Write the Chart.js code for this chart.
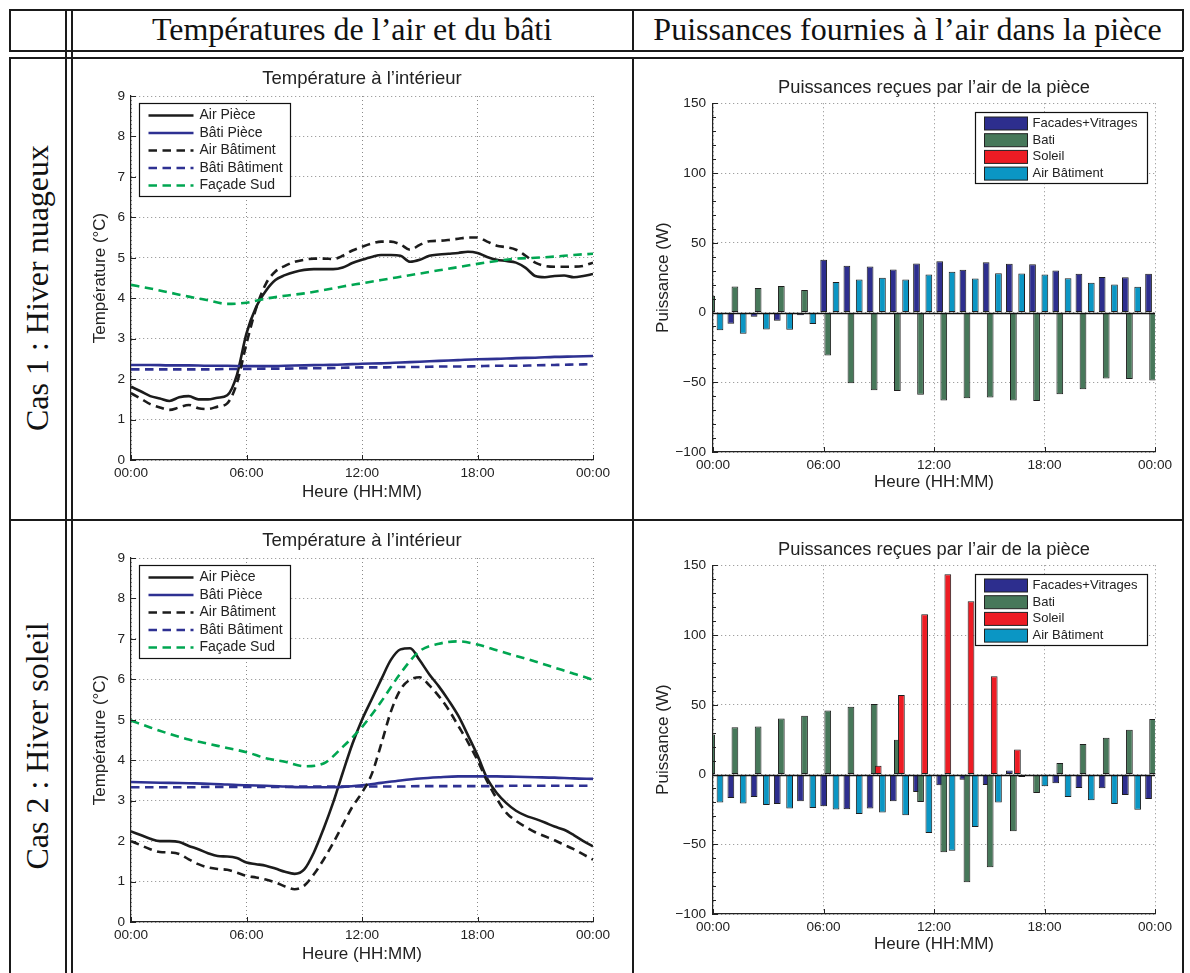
<!DOCTYPE html>
<html>
<head>
<meta charset="utf-8">
<script src="https://cdn.jsdelivr.net/npm/chart.js@4.4.1/dist/chart.umd.min.js"></script>
<style>
  html, body { margin: 0; padding: 0; background: #fff; overflow: hidden; }
  #page { position: relative; width: 1190px; height: 973px; }
  .ln { position: absolute; background: #1a1a1a; }
  .head { position: absolute; top: 9px; height: 41px; line-height: 41px; text-align: center;
          font-family: "Liberation Serif", serif; font-size: 32px; color: #111; white-space: nowrap; }
  .side { position: absolute; left: -163px; width: 400px; height: 40px; line-height: 40px; text-align: center;
          font-family: "Liberation Serif", serif; font-size: 32px; color: #111; white-space: nowrap;
          transform: rotate(-90deg); }
  canvas { position: absolute; }
</style>
</head>
<body>
<div id="page">
  <!-- table rules -->
  <div class="ln" style="left:9px;top:9px;width:1174px;height:1.5px"></div>
  <div class="ln" style="left:9px;top:50px;width:1174px;height:1.5px"></div>
  <div class="ln" style="left:9px;top:57px;width:1174px;height:1.5px"></div>
  <div class="ln" style="left:9px;top:519px;width:1174px;height:1.5px"></div>
  <div class="ln" style="left:9px;top:9px;width:1.5px;height:42px"></div>
  <div class="ln" style="left:9px;top:57px;width:1.5px;height:920px"></div>
  <div class="ln" style="left:65px;top:9px;width:1.5px;height:968px"></div>
  <div class="ln" style="left:71px;top:9px;width:1.5px;height:968px"></div>
  <div class="ln" style="left:632px;top:9px;width:1.5px;height:42px"></div>
  <div class="ln" style="left:632px;top:57px;width:1.5px;height:920px"></div>
  <div class="ln" style="left:1182px;top:9px;width:1.5px;height:42px"></div>
  <div class="ln" style="left:1182px;top:57px;width:1.5px;height:920px"></div>

  <div class="head" style="left:72px;width:560px">Températures de l’air et du bâti</div>
  <div class="head" style="left:633px;width:549px">Puissances fournies à l’air dans la pièce</div>
  <div class="side" style="top:268px">Cas 1 : Hiver nuageux</div>
  <div class="side" style="top:726px">Cas 2 : Hiver soleil</div>

  <canvas id="temp1" width="550" height="458" style="left:76px;top:58px"></canvas>
  <canvas id="bars1" width="540" height="458" style="left:640px;top:58px"></canvas>
  <canvas id="temp2" width="550" height="458" style="left:76px;top:520px"></canvas>
  <canvas id="bars2" width="540" height="458" style="left:640px;top:520px"></canvas>
</div>

<script>
// ---- data ----
const timeTickLabels = ['00:00', '06:00', '12:00', '18:00', '00:00'];

const halfHours = [0, 0.5, 1, 1.5, 2, 2.5, 3, 3.5, 4, 4.5, 5, 5.5, 6, 6.5, 7, 7.5, 8, 8.5, 9, 9.5, 10, 10.5, 11, 11.5,
  12, 12.5, 13, 13.5, 14, 14.5, 15, 15.5, 16, 16.5, 17, 17.5, 18, 18.5, 19, 19.5, 20, 20.5, 21, 21.5, 22, 22.5, 23, 23.5, 24];
const hours = [0, 1, 2, 3, 4, 5, 6, 7, 8, 9, 10, 11, 12, 13, 14, 15, 16, 17, 18, 19, 20, 21, 22, 23, 24];

// Cas 1 : Hiver nuageux - temperatures (°C)
const c1AirPiece = [1.81, 1.70, 1.58, 1.52, 1.46, 1.55, 1.58, 1.50, 1.50, 1.54, 1.60, 2.10, 3.13, 3.78, 4.18, 4.45, 4.57,
  4.65, 4.70, 4.72, 4.72, 4.72, 4.76, 4.87, 4.95, 5.02, 5.07, 5.07, 5.05, 4.90, 4.95, 5.05, 5.08, 5.10, 5.12, 5.15,
  5.12, 5.02, 4.95, 4.92, 4.88, 4.75, 4.55, 4.52, 4.55, 4.56, 4.52, 4.55, 4.60];
const c1AirBatiment = [1.65, 1.52, 1.38, 1.30, 1.24, 1.30, 1.36, 1.28, 1.26, 1.32, 1.40, 1.90, 2.88, 3.75, 4.35, 4.66,
  4.80, 4.90, 4.95, 4.98, 4.98, 4.97, 5.05, 5.18, 5.27, 5.35, 5.40, 5.40, 5.33, 5.20, 5.32, 5.41, 5.42, 5.44, 5.47,
  5.50, 5.50, 5.40, 5.30, 5.26, 5.20, 5.05, 4.88, 4.80, 4.78, 4.78, 4.78, 4.80, 4.88];
const c1BatiPiece = [2.35, 2.35, 2.34, 2.34, 2.33, 2.33, 2.32, 2.32, 2.33, 2.34, 2.35, 2.36, 2.38, 2.39, 2.41, 2.43,
  2.45, 2.47, 2.49, 2.50, 2.52, 2.53, 2.55, 2.56, 2.57];
const c1BatiBatiment = [2.24, 2.24, 2.24, 2.24, 2.24, 2.25, 2.25, 2.26, 2.26, 2.27, 2.27, 2.28, 2.29, 2.29, 2.30, 2.30,
  2.31, 2.31, 2.32, 2.33, 2.33, 2.34, 2.35, 2.36, 2.37];
const c1FacadeSud = [4.33, 4.24, 4.14, 4.04, 3.95, 3.86, 3.89, 3.99, 4.06, 4.12, 4.20, 4.29, 4.37, 4.45, 4.53, 4.61,
  4.69, 4.77, 4.85, 4.92, 4.98, 5.00, 5.03, 5.07, 5.10];

// Cas 2 : Hiver soleil - temperatures (°C)
const c2AirPiece = [2.24, 2.15, 2.06, 2.00, 2.00, 1.98, 1.88, 1.80, 1.70, 1.63, 1.62, 1.58, 1.47, 1.43, 1.39, 1.32, 1.24,
  1.19, 1.30, 1.72, 2.30, 2.95, 3.69, 4.40, 5.00, 5.50, 6.00, 6.48, 6.74, 6.77, 6.47, 6.12, 5.82, 5.48, 5.10, 4.62,
  4.12, 3.55, 3.19, 2.94, 2.75, 2.63, 2.55, 2.46, 2.36, 2.28, 2.15, 2.00, 1.87];
const c2AirBatiment = [2.00, 1.90, 1.80, 1.73, 1.72, 1.68, 1.55, 1.43, 1.35, 1.31, 1.29, 1.22, 1.14, 1.10, 1.05, 0.98,
  0.88, 0.81, 0.90, 1.18, 1.54, 1.95, 2.40, 2.85, 3.20, 3.65, 4.40, 5.20, 5.75, 5.99, 6.05, 5.85, 5.58, 5.25, 4.85,
  4.45, 4.00, 3.48, 3.05, 2.70, 2.50, 2.35, 2.22, 2.12, 2.02, 1.91, 1.80, 1.67, 1.54];
const c2BatiPiece = [3.46, 3.45, 3.44, 3.43, 3.42, 3.40, 3.38, 3.37, 3.35, 3.33, 3.33, 3.34, 3.38, 3.44, 3.50, 3.55,
  3.58, 3.60, 3.60, 3.60, 3.59, 3.58, 3.57, 3.55, 3.54];
const c2BatiBatiment = [3.33, 3.33, 3.33, 3.33, 3.34, 3.34, 3.34, 3.34, 3.34, 3.35, 3.35, 3.35, 3.35, 3.35, 3.35, 3.36,
  3.36, 3.36, 3.36, 3.36, 3.37, 3.37, 3.37, 3.37, 3.37];
const c2FacadeSud = [4.98, 4.81, 4.65, 4.51, 4.41, 4.30, 4.20, 4.05, 3.96, 3.85, 3.92, 4.33, 4.82, 5.45, 6.15, 6.70,
  6.88, 6.94, 6.86, 6.72, 6.58, 6.44, 6.29, 6.14, 5.99];

// powers received by the room air (W), one group of bars every 1.26 h
const barHours = [0, 1.26, 2.52, 3.78, 5.04, 6.3, 7.56, 8.82, 10.08, 11.34, 12.6, 13.86, 15.12, 16.38, 17.64, 18.9,
  20.16, 21.42, 22.68, 23.94];

const c1Facades = [-10, -8, -3, -6, -2, 37.8, 33.6, 33, 30.8, 35.2, 36.8, 30.7, 36.1, 35, 34.6, 30.2, 27.8, 25.5, 25.3, 27.7];
const c1Bati = [12, 18.6, 17.6, 19, 16.1, -30.8, -50.7, -55.7, -56.3, -59, -63.1, -61.4, -61, -63, -63.4, -58.6, -55.1,
  -47.3, -47.6, -48.7];
const c1Soleil = [0, 0, 0, 0, 0, 0, 0, 0, 0, 0, 0, 0, 0, 0, 0, 0, 0, 0, 0, 0];
const c1AirBat = [-12.8, -15.2, -12.2, -12.3, -8.2, 21.8, 23.7, 24.9, 23.7, 27.3, 29.2, 24.3, 28.2, 28, 27.2, 24.6, 21.3,
  20, 18.5, 18];

const c2Facades = [-18, -16.8, -16.2, -21.2, -19.2, -22.7, -24.9, -24.3, -19.2, -12.6, -7.7, -3.7, -7.5, 2.9, -0.5, -6.2,
  -9.6, -9.8, -14.7, -17.6];
const c2Bati = [28.6, 33.8, 34.4, 40.1, 42.1, 45.9, 48.6, 50.5, 25, -19.8, -55.8, -77.2, -66.4, -40.7, -13.3, 8.3, 21.8,
  26.4, 32, 39.7];
const c2Soleil = [0, 0, 0, 0, 0, 0, 0, 6.3, 57, 114.8, 143.5, 124.2, 70.4, 18, 0, 0, 0, 0, 0, 0];
const c2AirBat = [-20, -20.7, -21.9, -24.3, -24, -25.1, -28.4, -27.2, -29.2, -42, -54.6, -37.6, -20, -1.7, -8.4, -16.2,
  -18.5, -21.2, -25.3, -26];

const lineLabels = ['Air Pièce', 'Bâti Pièce', 'Air Bâtiment', 'Bâti Bâtiment', 'Façade Sud'];
const barLabels = ['Facades+Vitrages', 'Bati', 'Soleil', 'Air Bâtiment'];

// ---- styles ----
const FONT = "'Liberation Sans', Arial, sans-serif";
const TEXT = '#222';
const BLACK = '#1c1c1c';
const BLUE = '#2e3192';
const GREEN = '#00a651';
const DASH = [8.5, 5.5];
const BAR_COLORS = ['#2d2e8e', '#47785a', '#ed1c24', '#0b96c4'];
const BAR_SHIFT = [-0.29, -0.07, 0.15, 0.38];   // offset (h) of each series inside its group
const BAR_AXES = ['xF', 'xB', 'xS', 'xA'];

Chart.defaults.font.family = FONT;
Chart.defaults.color = TEXT;
Chart.defaults.animation = false;

function toPoints(xs, ys) {
  return xs.map((x, i) => ({ x: x, y: ys[i] }));
}

// legend drawn inside the plot area, like the MATLAB one
const insideLegend = {
  id: 'insideLegend',
  afterDraw(chart, args, o) {
    if (!o || !o.kind) return;
    const ctx = chart.ctx, a = chart.chartArea;
    const x0 = Math.round(o.anchor === 'right' ? a.right - o.dx - o.w : a.left + o.dx) + 0.5;
    const y0 = Math.round(a.top + o.dy) + 0.5;
    ctx.save();
    ctx.fillStyle = '#fff';
    ctx.fillRect(x0, y0, o.w, o.h);
    ctx.strokeStyle = '#111';
    ctx.lineWidth = 1.2;
    ctx.strokeRect(x0, y0, o.w, o.h);
    ctx.font = o.fontSize + 'px ' + FONT;
    ctx.textBaseline = 'middle';
    ctx.textAlign = 'left';
    chart.data.datasets.forEach((ds, i) => {
      const cy = y0 + o.first + i * o.row;
      if (o.kind === 'line') {
        ctx.setLineDash(ds.borderDash || []);
        ctx.strokeStyle = ds.borderColor;
        ctx.lineWidth = ds.borderWidth;
        ctx.beginPath();
        ctx.moveTo(x0 + o.s0, cy);
        ctx.lineTo(x0 + o.s1, cy);
        ctx.stroke();
        ctx.setLineDash([]);
      } else {
        ctx.fillStyle = ds.backgroundColor;
        ctx.fillRect(x0 + o.s0, cy - o.sh / 2, o.s1 - o.s0, o.sh);
        ctx.strokeStyle = '#222';
        ctx.lineWidth = 1;
        ctx.strokeRect(x0 + o.s0, cy - o.sh / 2, o.s1 - o.s0, o.sh);
      }
      ctx.fillStyle = TEXT;
      ctx.fillText(ds.label, x0 + o.tx, cy);
    });
    ctx.restore();
  }
};

// inward tick marks and bar baseline
const axisMarks = {
  id: 'axisMarks',
  afterDatasetsDraw(chart, args, o) {
    const { ctx, chartArea: a, scales } = chart;
    const y = scales.y, x = scales.x;
    ctx.save();
    ctx.strokeStyle = '#222';
    ctx.lineWidth = 1;
    ctx.beginPath();
    y.ticks.forEach(t => {
      const py = Math.round(y.getPixelForValue(t.value)) + 0.5;
      ctx.moveTo(a.left, py); ctx.lineTo(a.left + 5, py);
    });
    x.ticks.forEach(t => {
      const px = Math.round(x.getPixelForValue(t.value)) + 0.5;
      ctx.moveTo(px, a.bottom); ctx.lineTo(px, a.bottom - 5);
    });
    if (o && o.minorY) {
      for (let v = y.min; v <= y.max; v += o.minorY) {
        const py = Math.round(y.getPixelForValue(v)) + 0.5;
        ctx.moveTo(a.left, py); ctx.lineTo(a.left + 3, py);
      }
    }
    ctx.stroke();
    if (o && o.zeroLine) {
      const p0 = Math.round(y.getPixelForValue(0)) + 0.5;
      ctx.strokeStyle = '#111';
      ctx.lineWidth = 1.4;
      ctx.beginPath();
      ctx.moveTo(a.left, p0); ctx.lineTo(a.right, p0);
      ctx.stroke();
    }
    ctx.restore();
  }
};

Chart.register(axisMarks, insideLegend);

function gridOpts() {
  return { color: '#8a8a8a', lineWidth: 1, drawTicks: false };
}
function borderOpts() {
  return { color: '#222', width: 1.2, dash: [1, 3] };
}
function timeAxis(height, titlePad) {
  return {
    type: 'linear', min: 0, max: 24, offset: false,
    afterFit: s => { s.height = height; },
    ticks: { stepSize: 6, padding: 5, maxRotation: 0, autoSkip: false, font: { size: 13.6 }, color: TEXT,
             callback: (v, i) => timeTickLabels[i] },
    grid: Object.assign(gridOpts(), { offset: false }),
    border: borderOpts(),
    title: { display: true, text: 'Heure (HH:MM)', font: { size: 17 }, color: TEXT, padding: { top: 0, bottom: titlePad } }
  };
}

function lineSet(label, xs, ys, color, dash, order) {
  return {
    label: label, data: toPoints(xs, ys), borderColor: color, backgroundColor: color,
    borderWidth: 2.6, borderDash: dash, borderCapStyle: 'butt', pointRadius: 0,
    cubicInterpolationMode: 'monotone', fill: false, order: order
  };
}

function tempChart(id, airPiece, batiPiece, airBat, batiBat, facade) {
  return new Chart(document.getElementById(id), {
    type: 'line',
    data: {
      datasets: [
        lineSet(lineLabels[0], halfHours, airPiece, BLACK, [], 4),
        lineSet(lineLabels[1], hours, batiPiece, BLUE, [], 3),
        lineSet(lineLabels[2], halfHours, airBat, BLACK, DASH, 2),
        lineSet(lineLabels[3], hours, batiBat, BLUE, DASH, 1),
        lineSet(lineLabels[4], hours, facade, GREEN, DASH, 0)
      ]
    },
    options: {
      responsive: false,
      devicePixelRatio: 1,
      layout: { padding: { left: 0, right: 33, top: 0, bottom: 0 } },
      plugins: {
        legend: { display: false },
        tooltip: { enabled: false },
        title: { display: true, fullSize: false, text: 'Température à l’intérieur', color: TEXT,
                 font: { size: 18.5, weight: 'normal' }, padding: { top: 9.5, bottom: 6.3 } },
        insideLegend: { kind: 'line', anchor: 'left', dx: 8, dy: 7, w: 151, h: 93, first: 12, row: 17.5,
                        s0: 9, s1: 54, tx: 60, fontSize: 14 },
        axisMarks: {}
      },
      scales: {
        x: timeAxis(56, 13.8),
        y: {
          min: 0, max: 9,
          afterFit: s => { s.width = 55; },
          ticks: { stepSize: 1, padding: 6, font: { size: 13.6 }, color: TEXT },
          grid: gridOpts(),
          border: borderOpts(),
          title: { display: true, text: 'Température (°C)', font: { size: 17 }, color: TEXT, padding: { top: 14, bottom: 0 } }
        }
      }
    }
  });
}

function barSet(i, values) {
  return {
    label: barLabels[i], data: toPoints(barHours, values), xAxisID: BAR_AXES[i],
    backgroundColor: BAR_COLORS[i], borderColor: '#1e1e1e', borderWidth: 1, borderSkipped: false,
    grouped: false, categoryPercentage: 1, barPercentage: 0.29, clip: 0, order: 4 - i
  };
}

function barChart(id, facades, bati, soleil, airBat) {
  const scales = {
    x: timeAxis(64, 23.3),
    y: {
      min: -100, max: 150,
      afterFit: s => { s.width = 73; },
      ticks: { stepSize: 50, padding: 7, font: { size: 13.6 }, color: TEXT,
               callback: v => (v < 0 ? '\u2212' + (-v) : String(v)) },
      grid: gridOpts(),
      border: borderOpts(),
      title: { display: true, text: 'Puissance (W)', font: { size: 17 }, color: TEXT, padding: { top: 12.8, bottom: 0 } }
    }
  };
  // one hidden time axis per series, shifted so the bars of a group sit side by side
  BAR_AXES.forEach((ax, i) => {
    scales[ax] = { type: 'linear', axis: 'x', display: false, offset: false,
                   min: 0 - BAR_SHIFT[i], max: 24 - BAR_SHIFT[i], grid: { offset: false } };
  });
  return new Chart(document.getElementById(id), {
    type: 'bar',
    data: { datasets: [barSet(0, facades), barSet(1, bati), barSet(2, soleil), barSet(3, airBat)] },
    options: {
      responsive: false,
      devicePixelRatio: 1,
      layout: { padding: { left: 0, right: 25, top: 0, bottom: 0 } },
      plugins: {
        legend: { display: false },
        tooltip: { enabled: false },
        title: { display: true, fullSize: false, text: 'Puissances reçues par l’air de la pièce', color: TEXT,
                 font: { size: 18.3, weight: 'normal' }, padding: { top: 19, bottom: 4.3 } },
        insideLegend: { kind: 'bar', anchor: 'right', dx: 8, dy: 9, w: 172, h: 71, first: 11, row: 16.7,
                        s0: 9, s1: 52, sh: 13, tx: 57, fontSize: 13 },
        axisMarks: { minorY: 10, zeroLine: true }
      },
      scales: scales
    }
  });
}

tempChart('temp1', c1AirPiece, c1BatiPiece, c1AirBatiment, c1BatiBatiment, c1FacadeSud);
tempChart('temp2', c2AirPiece, c2BatiPiece, c2AirBatiment, c2BatiBatiment, c2FacadeSud);
barChart('bars1', c1Facades, c1Bati, c1Soleil, c1AirBat);
barChart('bars2', c2Facades, c2Bati, c2Soleil, c2AirBat);
</script>
</body>
</html>
